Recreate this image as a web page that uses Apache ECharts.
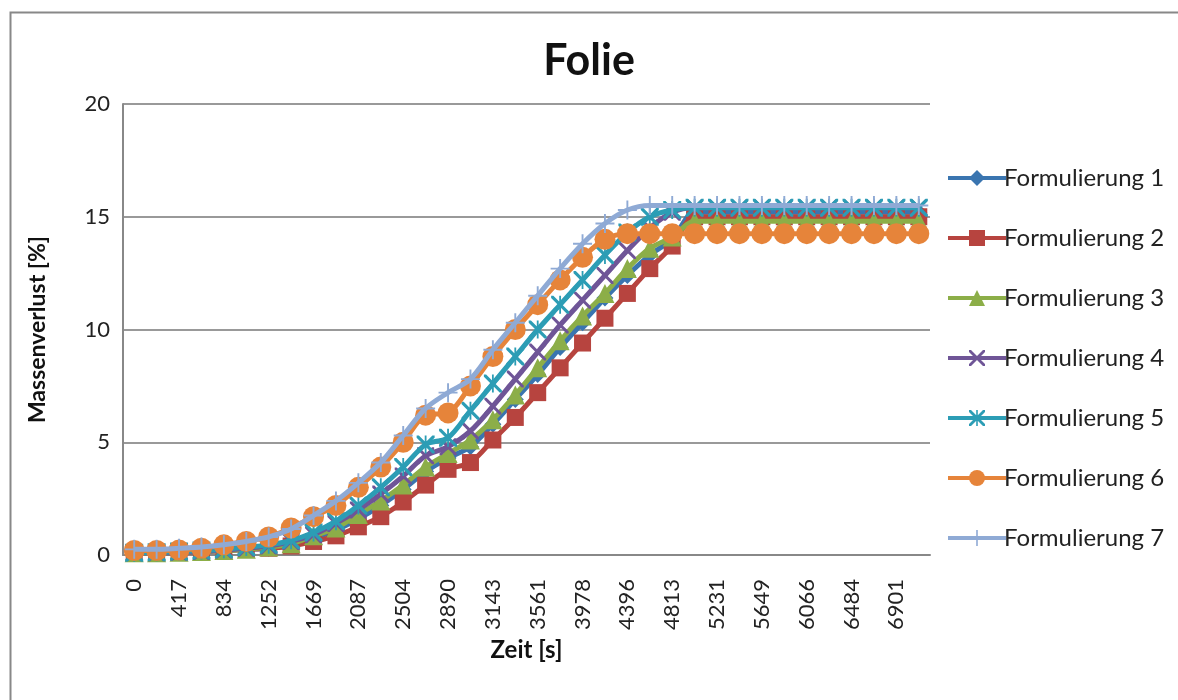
<!DOCTYPE html>
<html>
<head>
<meta charset="utf-8">
<script src="https://cdn.jsdelivr.net/npm/echarts@6/dist/echarts.min.js"></script>
<style>html,body{margin:0;padding:0;background:#fff}#c{width:1178px;height:700px}</style>
</head>
<body>
<div id="c"></div>
<script>
const categories = ['0','209','417','626','834','1043','1252','1460','1669','1878','2087','2295','2504','2712','2890','3017','3143','3352','3561','3770','3978','4187','4396','4605','4813','5022','5231','5440','5649','5857','6066','6275','6484','6693','6901','7110'];
const seriesNames = ['Formulierung 1','Formulierung 2','Formulierung 3','Formulierung 4','Formulierung 5','Formulierung 6','Formulierung 7'];
const f1 = [0.1,0.1,0.12,0.15,0.2,0.25,0.3,0.45,0.75,1.1,1.6,2.2,2.9,3.7,4.3,4.8,5.8,6.9,8.0,9.2,10.3,11.4,12.4,13.3,14.0,15.2,15.2,15.2,15.2,15.2,15.2,15.2,15.2,15.2,15.2,15.2];
const f2 = [0.1,0.1,0.12,0.15,0.2,0.25,0.3,0.4,0.6,0.85,1.25,1.7,2.35,3.1,3.8,4.1,5.1,6.1,7.2,8.3,9.4,10.5,11.6,12.7,13.7,15.0,15.0,15.0,15.0,15.0,15.0,15.0,15.0,15.0,15.0,15.0];
const f3 = [0.1,0.1,0.12,0.15,0.2,0.25,0.35,0.5,0.85,1.2,1.8,2.4,3.1,3.9,4.5,5.1,6.0,7.1,8.3,9.5,10.6,11.6,12.7,13.6,14.1,14.8,14.8,14.8,14.8,14.8,14.8,14.8,14.8,14.8,14.8,14.8];
const f4 = [0.1,0.1,0.12,0.15,0.22,0.3,0.4,0.6,0.9,1.4,2.0,2.7,3.5,4.4,4.8,5.5,6.6,7.8,9.0,10.2,11.3,12.4,13.5,14.5,15.2,15.4,15.4,15.4,15.4,15.4,15.4,15.4,15.4,15.4,15.4,15.4];
const f5 = [0.1,0.12,0.15,0.2,0.25,0.35,0.45,0.65,1.0,1.5,2.2,3.0,3.9,4.9,5.2,6.4,7.6,8.8,10.0,11.1,12.2,13.3,14.3,15.0,15.3,15.4,15.4,15.4,15.4,15.4,15.4,15.4,15.4,15.4,15.4,15.4];
const f6 = [0.2,0.2,0.22,0.3,0.45,0.6,0.8,1.2,1.7,2.2,3.0,3.9,5.0,6.2,6.3,7.5,8.8,10.0,11.1,12.2,13.2,14.0,14.25,14.25,14.25,14.25,14.25,14.25,14.25,14.25,14.25,14.25,14.25,14.25,14.25,14.25];
const f7 = [0.25,0.25,0.3,0.35,0.45,0.6,0.8,1.15,1.75,2.4,3.2,4.1,5.3,6.5,7.2,7.8,9.1,10.3,11.5,12.7,13.8,14.7,15.3,15.5,15.5,15.5,15.5,15.5,15.5,15.5,15.5,15.5,15.5,15.5,15.5,15.5];
const yTicks = [0,5,10,15,20];

const allData = [f1,f2,f3,f4,f5,f6,f7];
const colors = ['#3A75B0','#B7443F','#8CAE48','#6F5597','#2C9DB5','#E6843A','#8FAAD5'];
const X = 'path://M0,0 L2.5,0 L10,7.5 L17.5,0 L20,0 L20,2.5 L12.5,10 L20,17.5 L20,20 L17.5,20 L10,12.5 L2.5,20 L0,20 L0,17.5 L7.5,10 L0,2.5 Z';
const STAR = 'path://M0,0 L2.5,0 L10,7.5 L17.5,0 L20,0 L20,2.5 L12.5,10 L20,17.5 L20,20 L17.5,20 L10,12.5 L2.5,20 L0,20 L0,17.5 L7.5,10 L0,2.5 Z M9,0 L11,0 L11,20 L9,20 Z';
const PLUS = 'path://M9,0 L11,0 L11,9 L20,9 L20,11 L11,11 L11,20 L9,20 L9,11 L0,11 L0,9 L9,9 Z';
const symbols = ['diamond','rect','triangle',X,STAR,'circle',PLUS];
const sizes = [17,17,19,17,18,21,19];

const chart = echarts.init(document.getElementById('c'));
const font = 'Lato, "Open Sans", sans-serif';
chart.setOption({
  animation: false,
  backgroundColor: '#fff',
  graphic: [{type:'rect', left: 8, top: 10, shape:{width: 1200, height: 720}, style:{fill:'none', stroke:'#888', lineWidth: 2}, silent: true}],
  title: {text: 'Folie', left: 'center', top: 35, textStyle:{fontFamily: font, fontSize: 43, fontWeight: 'bold', color: '#111'}},
  legend: {
    orient: 'vertical', left: 941, top: 161, itemWidth: 58, itemHeight: 20, itemGap: 36,
    lineStyle: {width: 4},
    textStyle: {fontFamily: font, fontSize: 24, lineHeight: 24, color: '#222', padding:[0,0,0,-7]},
    data: seriesNames
  },
  grid: {left: 123, top: 104, right: 248, bottom: 145},
  xAxis: {
    type: 'category', data: categories, boundaryGap: true,
    name: 'Zeit [s]', nameLocation: 'middle', nameGap: 80,
    nameTextStyle: {fontFamily: font, fontSize: 24, fontWeight: 'bold', color: '#111'},
    axisLine: {lineStyle: {color: '#888', width: 2}},
    axisTick: {show: false},
    axisLabel: {interval: 1, rotate: 90, fontFamily: font, fontSize: 22, color: '#222', margin: 24},
    splitLine: {show: false}
  },
  yAxis: {
    type: 'value', min: yTicks[0], max: yTicks[yTicks.length-1], interval: 5,
    name: 'Massenverlust [%]', nameLocation: 'middle', nameGap: 74, nameRotate: 90,
    nameTextStyle: {fontFamily: font, fontSize: 23, fontWeight: 'bold', color: '#111'},
    axisLine: {show: true, lineStyle: {color: '#888', width: 2}},
    axisTick: {show: false},
    axisLabel: {fontFamily: font, fontSize: 22, color: '#222', margin: 13},
    splitLine: {lineStyle: {color: '#999', width: 2}}
  },
  series: allData.map((d, i) => ({
    name: seriesNames[i], type: 'line', data: d, smooth: 0.3,
    symbol: symbols[i], symbolSize: sizes[i], showAllSymbol: true,
    itemStyle: {color: colors[i]},
    lineStyle: {color: colors[i], width: 5},
    z: 2 + i
  }))
});
</script>
</body>
</html>
